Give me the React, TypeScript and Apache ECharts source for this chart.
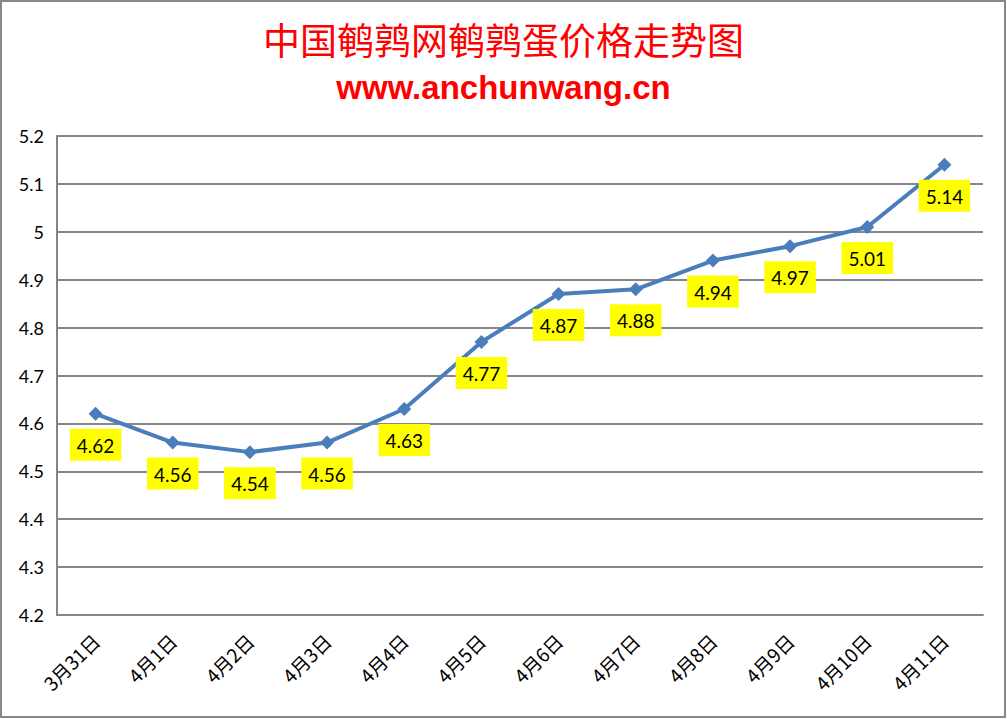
import React, { useEffect, useRef } from "react";
import * as echarts from "echarts";

const categories = ["3月31日", "4月1日", "4月2日", "4月3日", "4月4日", "4月5日", "4月6日", "4月7日", "4月8日", "4月9日", "4月10日", "4月11日"];
const prices = [4.62, 4.56, 4.54, 4.56, 4.63, 4.77, 4.87, 4.88, 4.94, 4.97, 5.01, 5.14];
const titleText = "中国鹌鹑网鹌鹑蛋价格走势图";
const subtitleText = "www.anchunwang.cn";

export default function App() {
  const ref = useRef<HTMLDivElement>(null);
  useEffect(() => {
    if (!ref.current) return;
    const chart = echarts.init(ref.current, null, { renderer: "svg" });
    chart.setOption({
      animation: false,
      backgroundColor: "#ffffff",
      graphic: [
        {
          type: "rect",
          shape: { x: 1, y: 1, width: 1004, height: 716 },
          style: { fill: "none", stroke: "#888888", lineWidth: 2 },
          silent: true,
        },
      ],
      title: [
        {
          text: titleText,
          left: "center",
          top: 15,
          textStyle: { color: "#ff0000", fontSize: 37, fontWeight: "normal", fontFamily: "Noto Sans CJK SC" },
        },
        {
          text: subtitleText,
          left: "center",
          top: 66,
          textStyle: { color: "#ff0000", fontSize: 33, fontWeight: "bold", fontFamily: "Liberation Sans" },
        },
      ],
      grid: { left: 57, right: 24, top: 136, bottom: 104, containLabel: false },
      xAxis: {
        type: "category",
        data: categories,
        boundaryGap: true,
        axisLine: { show: true, lineStyle: { color: "#868686", width: 2 } },
        axisTick: { show: false },
        axisLabel: {
          rotate: 45,
          margin: 22,
          color: "#000",
          fontSize: 19,
          fontFamily: "Noto Sans CJK SC",
          interval: 0,
        },
      },
      yAxis: {
        type: "value",
        min: 4.2,
        max: 5.2,
        interval: 0.1,
        axisLine: { show: true, lineStyle: { color: "#868686", width: 2 } },
        axisTick: { show: false },
        axisLabel: { color: "#000", fontSize: 18, fontFamily: "Lato", margin: 13 },
        splitLine: { show: true, lineStyle: { color: "#868686", width: 2 } },
      },
      series: [
        {
          type: "line",
          data: prices,
          symbol: "diamond",
          symbolSize: 14,
          lineStyle: { color: "#4a7ebb", width: 4 },
          itemStyle: { color: "#4a7ebb" },
          label: {
            show: true,
            position: "bottom",
            distance: 8,
            color: "#000",
            fontSize: 19,
            fontFamily: "Lato",
            backgroundColor: "#ffff00",
            padding: [7, 7, 6, 7],
          },
        },
      ],
    });
    return () => chart.dispose();
  }, []);
  return <div ref={ref} style={{ position: "fixed", left: 0, top: 0, width: 1007, height: 719 }} />;
}
